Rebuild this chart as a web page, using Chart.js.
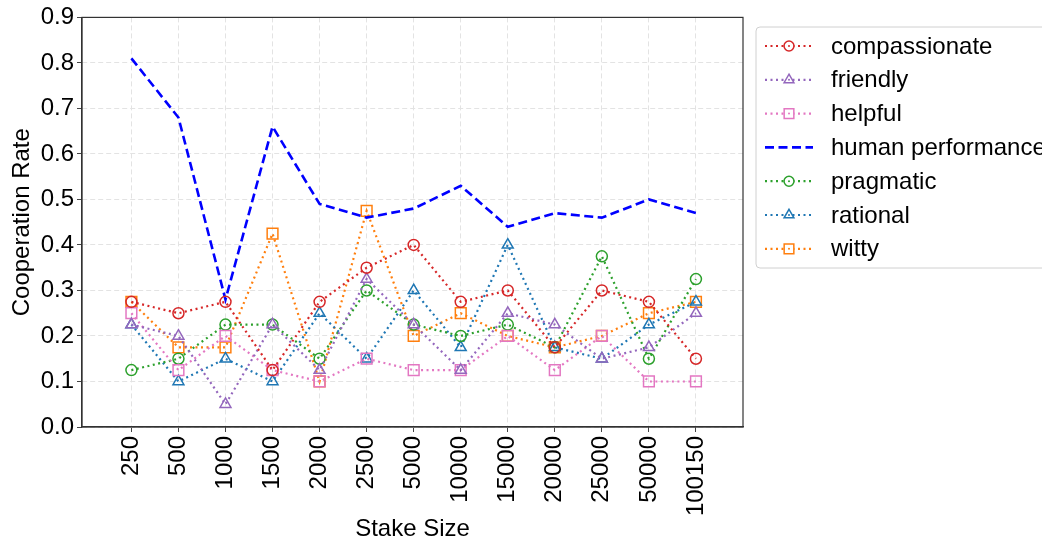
<!DOCTYPE html>
<html>
<head>
<meta charset="utf-8">
<script src="https://cdn.jsdelivr.net/npm/chart.js@4.4.1/dist/chart.umd.min.js"></script>
<style>
  html, body { margin: 0; padding: 0; background: #fff; }
  #wrap { width: 1042px; height: 544px; position: relative; }
</style>
</head>
<body>
<div id="wrap"><canvas id="c" width="1042" height="544"></canvas></div>
<script>
const stakeSizes = ['250','500','1000','1500','2000','2500','5000','10000','15000','20000','25000','50000','100150'];
const compassionate = [0.275,0.25,0.275,0.125,0.275,0.35,0.40,0.275,0.30,0.175,0.30,0.275,0.15];
const friendly      = [0.225,0.20,0.05,0.225,0.125,0.325,0.225,0.125,0.25,0.225,0.15,0.175,0.25];
const helpful       = [0.25,0.125,0.20,0.125,0.10,0.15,0.125,0.125,0.20,0.125,0.20,0.10,0.10];
const humanPerformance = [0.81,0.68,0.28,0.66,0.49,0.46,0.48,0.53,0.44,0.47,0.46,0.50,0.47];
const pragmatic     = [0.125,0.15,0.225,0.225,0.15,0.30,0.225,0.20,0.225,0.175,0.375,0.15,0.325];
const rational      = [0.225,0.10,0.15,0.10,0.25,0.15,0.30,0.175,0.40,0.175,0.15,0.225,0.275];
const witty         = [0.275,0.175,0.175,0.425,0.10,0.475,0.20,0.25,0.20,0.175,0.20,0.25,0.275];
const yTicks = [0.0,0.1,0.2,0.3,0.4,0.5,0.6,0.7,0.8,0.9];

const FONT = "'Liberation Sans', Arial, sans-serif";
const FS = 24;
const DOT = [2, 3.5];
const RADII = { circle: 5.5, triangle: 6.3, rect: 7.6 };

function series(label, values, color, pointStyle, dashed) {
  const r = pointStyle ? RADII[pointStyle] : 0;
  return {
    label,
    data: values.map((v, i) => ({ x: i, y: v })),
    borderColor: color,
    backgroundColor: 'rgba(0,0,0,0)',
    borderWidth: dashed ? 2.6 : 2.2,
    borderDash: dashed ? [9, 4.5] : DOT,
    borderCapStyle: 'butt',
    pointStyle: pointStyle || false,
    pointRadius: r,
    pointHoverRadius: r,
    pointBorderColor: color,
    pointBackgroundColor: 'rgba(0,0,0,0)',
    pointBorderWidth: 1.5,
    tension: 0,
    fill: false,
  };
}

const datasets = [
  series('compassionate', compassionate, '#d62728', 'circle'),
  series('friendly', friendly, '#9467bd', 'triangle'),
  series('helpful', helpful, '#e377c2', 'rect'),
  series('human performance', humanPerformance, '#0000ff', null, true),
  series('pragmatic', pragmatic, '#2ca02c', 'circle'),
  series('rational', rational, '#1f77b4', 'triangle'),
  series('witty', witty, '#ff7f0e', 'rect'),
];

const framePlugin = {
  id: 'frame',
  afterDatasetsDraw(chart) {
    const { ctx, chartArea: a } = chart;
    ctx.save();
    ctx.strokeStyle = '#333';
    ctx.lineWidth = 1.2;
    ctx.setLineDash([]);
    ctx.strokeRect(a.left, a.top, a.right - a.left, a.bottom - a.top);
    ctx.restore();
  }
};

const legendPlugin = {
  id: 'customLegend',
  afterDraw(chart) {
    const ctx = chart.ctx;
    const x0 = 756, y0 = 27, w = 300, h = 241, r = 4;
    ctx.save();
    ctx.fillStyle = 'rgba(255,255,255,0.8)';
    ctx.strokeStyle = '#d0d0d0';
    ctx.lineWidth = 1;
    ctx.beginPath();
    ctx.moveTo(x0 + r, y0);
    ctx.lineTo(x0 + w, y0);
    ctx.lineTo(x0 + w, y0 + h);
    ctx.lineTo(x0 + r, y0 + h);
    ctx.arcTo(x0, y0 + h, x0, y0 + h - r, r);
    ctx.lineTo(x0, y0 + r);
    ctx.arcTo(x0, y0, x0 + r, y0, r);
    ctx.closePath();
    ctx.fill();
    ctx.stroke();
    ctx.font = FS + 'px ' + FONT;
    ctx.textBaseline = 'middle';
    chart.data.datasets.forEach((ds, i) => {
      const y = 46 + i * 33.8;
      ctx.strokeStyle = ds.borderColor;
      ctx.lineWidth = ds.borderWidth;
      ctx.setLineDash(ds.borderDash);
      ctx.beginPath();
      ctx.moveTo(765, y);
      ctx.lineTo(813, y);
      ctx.stroke();
      ctx.setLineDash([]);
      if (ds.pointStyle) {
        ctx.lineWidth = 1.5;
        ctx.fillStyle = '#fff';
        ctx.strokeStyle = ds.borderColor;
        Chart.helpers.drawPoint(ctx, { pointStyle: ds.pointStyle, radius: ds.pointRadius * 0.9, borderWidth: 1.5 }, 789, y);
        ctx.fillStyle = ds.borderColor;
        ctx.beginPath();
        ctx.arc(789, y, 1, 0, Math.PI * 2);
        ctx.fill();
      }
      ctx.fillStyle = '#000';
      ctx.fillText(ds.label, 831, y + 1);
    });
    ctx.restore();
  }
};

new Chart(document.getElementById('c'), {
  type: 'line',
  data: { datasets },
  options: {
    responsive: false,
    animation: false,
    devicePixelRatio: 1,
    layout: { padding: { top: 15, right: 299, left: 8, bottom: 0 } },
    plugins: { legend: { display: false }, tooltip: { enabled: false } },
    scales: {
      x: {
        type: 'linear',
        min: -1.05,
        max: 13.0,
        afterFit(s) { s.height = 117; },
        afterBuildTicks(s) { s.ticks = stakeSizes.map((_, i) => ({ value: i })); },
        ticks: {
          autoSkip: false,
          maxRotation: 90,
          minRotation: 90,
          padding: 4,
          color: '#000',
          font: { family: FONT, size: FS },
          callback: (v) => stakeSizes[v] ?? '',
        },
        grid: { color: '#e3e3e3', lineWidth: 1, tickColor: '#444', tickLength: 5, drawTicks: true },
        border: { display: true, color: '#333', width: 1.2, dash: [5, 3] },
        title: { display: true, text: 'Stake Size', color: '#000', font: { family: FONT, size: FS }, padding: { top: 0, bottom: 0 } },
      },
      y: {
        type: 'linear',
        min: 0,
        max: 0.9,
        afterFit(s) { s.width = 74; },
        afterBuildTicks(s) { s.ticks = yTicks.map(v => ({ value: v })); },
        ticks: {
          color: '#000',
          padding: 3,
          font: { family: FONT, size: FS },
          callback: (v) => Number(v).toFixed(1),
        },
        grid: { color: '#e3e3e3', lineWidth: 1, tickColor: '#444', tickLength: 5, drawTicks: true },
        border: { display: true, color: '#333', width: 1.2, dash: [5, 3] },
        title: { display: true, text: 'Cooperation Rate', color: '#000', font: { family: FONT, size: FS }, padding: { top: 0, bottom: 0 } },
      }
    }
  },
  plugins: [framePlugin, legendPlugin]
});
</script>
</body>
</html>
